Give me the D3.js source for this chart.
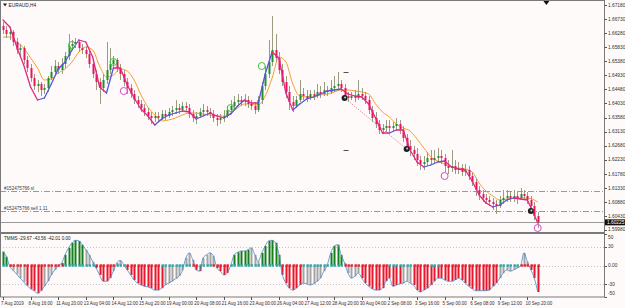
<!DOCTYPE html>
<html>
<head>
<meta charset="utf-8">
<script src="https://cdnjs.cloudflare.com/ajax/libs/d3/7.8.5/d3.min.js"></script>
<style>
body{margin:0;background:#fffafa;}
svg{display:block;font-family:'Liberation Sans',Arial,sans-serif;}
</style>
</head>
<body>
<svg></svg>
<script>
var w = 625, h = 308;

// EURAUD H4 candles, one value per bar (156 bars)
var opens = [1.66508,1.66380,1.66252,1.66316,1.65996,1.65740,1.65804,1.65420,1.65164,1.64844,
  1.64588,1.64652,1.64460,1.64524,1.64844,1.65036,1.65228,1.65100,1.65292,1.65548,
  1.65868,1.65932,1.65996,1.65804,1.65740,1.65612,1.65292,1.64972,1.64716,1.64524,
  1.64780,1.65100,1.65292,1.65420,1.65164,1.64972,1.64716,1.64524,1.64332,1.64140,
  1.64012,1.63884,1.63756,1.63628,1.63564,1.63628,1.63564,1.63692,1.63628,1.63756,
  1.63820,1.63884,1.63820,1.63948,1.63884,1.63692,1.63564,1.63628,1.63756,1.63820,
  1.63756,1.63692,1.63564,1.63500,1.63564,1.63628,1.63820,1.63948,1.64076,1.64140,
  1.64076,1.64140,1.64012,1.63948,1.63820,1.64140,1.64588,1.64972,1.65356,1.65740,
  1.65484,1.65100,1.64716,1.64396,1.64076,1.63948,1.64140,1.64332,1.64268,1.64204,
  1.64332,1.64268,1.64396,1.64332,1.64460,1.64396,1.64524,1.64588,1.64652,1.64524,
  1.64268,1.64204,1.64268,1.64204,1.64332,1.64268,1.64140,1.63820,1.63564,1.63372,
  1.63180,1.63244,1.63308,1.63244,1.63308,1.63372,1.63180,1.62924,1.62668,1.62540,
  1.62412,1.62220,1.62092,1.62156,1.62284,1.62220,1.62284,1.62348,1.62284,1.62028,
  1.61964,1.62028,1.61900,1.61964,1.61836,1.61900,1.61708,1.61516,1.61260,1.61132,
  1.61004,1.60940,1.60876,1.60812,1.60748,1.60940,1.61004,1.61068,1.61004,1.61068,
  1.61004,1.61132,1.61068,1.60940,1.60748,1.60428];
var highs = [1.66636,1.66508,1.66444,1.66380,1.66124,1.65932,1.65868,1.65548,1.65292,1.64972,
  1.64780,1.64716,1.64652,1.64908,1.65228,1.65420,1.65356,1.65484,1.65676,1.66252,
  1.66060,1.66124,1.66060,1.65932,1.65868,1.65740,1.65420,1.65100,1.64844,1.64972,
  1.65996,1.65804,1.65548,1.65484,1.65292,1.65100,1.64844,1.64652,1.64460,1.64268,
  1.64140,1.64012,1.63884,1.63756,1.63756,1.63756,1.63820,1.63820,1.63884,1.63948,
  1.64140,1.64012,1.64076,1.64076,1.64012,1.63820,1.63756,1.63884,1.64012,1.63948,
  1.63884,1.63820,1.63692,1.63692,1.63820,1.63948,1.64140,1.64268,1.64332,1.64268,
  1.64332,1.64268,1.64140,1.64076,1.64268,1.64716,1.65228,1.66060,1.66828,1.66252,
  1.65676,1.65292,1.64908,1.64588,1.64268,1.64268,1.64780,1.64524,1.64460,1.64460,
  1.64460,1.64652,1.64588,1.64716,1.64588,1.64780,1.64908,1.65036,1.64780,1.64652,
  1.64396,1.64396,1.64460,1.64780,1.64524,1.64396,1.64268,1.63948,1.63756,1.63500,
  1.63372,1.63500,1.63500,1.63436,1.63564,1.63500,1.63308,1.63052,1.62860,1.62668,
  1.62604,1.62348,1.62348,1.62476,1.62540,1.62540,1.62604,1.62540,1.62412,1.62220,
  1.62540,1.62220,1.62156,1.62092,1.62092,1.62028,1.61836,1.61644,1.61388,1.61260,
  1.61132,1.61068,1.61004,1.60940,1.61068,1.61260,1.61260,1.61196,1.61260,1.61196,
  1.61324,1.61260,1.61196,1.61068,1.60876,1.60556];
var lows = [1.66252,1.66124,1.66060,1.65868,1.65612,1.65548,1.65292,1.65036,1.64716,1.64460,
  1.64396,1.64268,1.64332,1.64396,1.64780,1.64908,1.64972,1.64972,1.65164,1.65420,
  1.65740,1.65804,1.65676,1.65612,1.65484,1.65164,1.64844,1.64460,1.64012,1.64396,
  1.64652,1.64972,1.65164,1.65036,1.64780,1.64588,1.64332,1.64204,1.64012,1.63884,
  1.63756,1.63628,1.63500,1.63372,1.63436,1.63436,1.63500,1.63500,1.63564,1.63628,
  1.63692,1.63692,1.63756,1.63756,1.63564,1.63436,1.63372,1.63564,1.63628,1.63628,
  1.63564,1.63436,1.63308,1.63372,1.63436,1.63564,1.63692,1.63820,1.63948,1.63948,
  1.63948,1.63884,1.63820,1.63692,1.63756,1.64012,1.64460,1.64844,1.65228,1.65356,
  1.64972,1.64588,1.64204,1.63820,1.63756,1.63884,1.64076,1.64140,1.64076,1.64140,
  1.64140,1.64204,1.64204,1.64268,1.64268,1.64332,1.64396,1.64460,1.64396,1.64140,
  1.64076,1.64140,1.64076,1.64140,1.64140,1.64012,1.63692,1.63436,1.63244,1.63052,
  1.63052,1.63116,1.63116,1.63116,1.63180,1.63052,1.62796,1.62540,1.62348,1.62220,
  1.62028,1.61900,1.61900,1.62028,1.62092,1.62092,1.62156,1.62092,1.61836,1.61772,
  1.61836,1.61772,1.61772,1.61708,1.61708,1.61580,1.61388,1.61068,1.60940,1.60876,
  1.60812,1.60748,1.60620,1.60492,1.60684,1.60812,1.60876,1.60876,1.60876,1.60812,
  1.60940,1.60940,1.60812,1.60620,1.60300,1.60044];
var closes = [1.66380,1.66252,1.66316,1.65996,1.65740,1.65804,1.65420,1.65164,1.64844,1.64588,
  1.64652,1.64460,1.64524,1.64844,1.65036,1.65228,1.65100,1.65292,1.65548,1.65868,
  1.65932,1.65996,1.65804,1.65740,1.65612,1.65292,1.64972,1.64716,1.64524,1.64780,
  1.65100,1.65292,1.65420,1.65164,1.64972,1.64716,1.64524,1.64332,1.64140,1.64012,
  1.63884,1.63756,1.63628,1.63564,1.63628,1.63564,1.63692,1.63628,1.63756,1.63820,
  1.63884,1.63820,1.63948,1.63884,1.63692,1.63564,1.63628,1.63756,1.63820,1.63756,
  1.63692,1.63564,1.63500,1.63564,1.63628,1.63820,1.63948,1.64076,1.64140,1.64076,
  1.64140,1.64012,1.63948,1.63820,1.64140,1.64588,1.64972,1.65356,1.65740,1.65484,
  1.65100,1.64716,1.64396,1.64076,1.63948,1.64140,1.64332,1.64268,1.64204,1.64332,
  1.64268,1.64396,1.64332,1.64460,1.64396,1.64524,1.64588,1.64652,1.64524,1.64268,
  1.64204,1.64268,1.64204,1.64332,1.64268,1.64140,1.63820,1.63564,1.63372,1.63180,
  1.63244,1.63308,1.63244,1.63308,1.63372,1.63180,1.62924,1.62668,1.62540,1.62412,
  1.62220,1.62092,1.62156,1.62284,1.62220,1.62284,1.62348,1.62284,1.62028,1.61964,
  1.62028,1.61900,1.61964,1.61836,1.61900,1.61708,1.61516,1.61260,1.61132,1.61004,
  1.60940,1.60876,1.60812,1.60748,1.60940,1.61004,1.61068,1.61004,1.61068,1.61004,
  1.61132,1.61068,1.60940,1.60748,1.60428,1.60225];

// moving averages read every 2nd bar, plus the last bar
var maBars = d3.range(0, 156, 2).concat([155]);
var fastMA = [1.66700,1.66476,1.65836,1.65260,1.64556,1.64140,1.64204,1.64652,1.65132,1.65356,
  1.65740,1.66060,1.65996,1.65516,1.64556,1.64364,1.65164,1.65164,1.64620,1.64204,
  1.63852,1.63628,1.63340,1.63532,1.63660,1.63724,1.63788,1.63756,1.63532,1.63628,
  1.63724,1.63628,1.63564,1.63692,1.63948,1.64140,1.64044,1.64044,1.64972,1.65676,
  1.65484,1.64364,1.63820,1.64012,1.64172,1.64236,1.64332,1.64428,1.64460,1.64492,
  1.64332,1.64268,1.64236,1.64012,1.63564,1.63084,1.63084,1.63180,1.63180,1.62540,
  1.62156,1.61996,1.62060,1.62156,1.62188,1.61996,1.61932,1.61900,1.61548,1.61100,
  1.60844,1.60716,1.60780,1.60940,1.61004,1.60972,1.60940,1.60460,1.60204];
var slowMA = [1.66156,1.66156,1.65996,1.65804,1.65484,1.65164,1.64780,1.64812,1.65004,1.65132,
  1.65356,1.65676,1.65836,1.65740,1.65228,1.64876,1.64940,1.65132,1.65068,1.64780,
  1.64300,1.63916,1.63660,1.63468,1.63500,1.63564,1.63660,1.63724,1.63724,1.63692,
  1.63660,1.63628,1.63628,1.63724,1.63884,1.64012,1.64012,1.63980,1.64268,1.64844,
  1.65516,1.65356,1.64652,1.64268,1.64236,1.64236,1.64300,1.64332,1.64396,1.64460,
  1.64460,1.64428,1.64396,1.64332,1.64012,1.63756,1.63596,1.63372,1.63244,1.63148,
  1.62892,1.62604,1.62316,1.62188,1.62092,1.61996,1.61964,1.61932,1.61836,1.61484,
  1.61228,1.61068,1.60940,1.60972,1.61004,1.61004,1.61004,1.60940,1.60876];

// TMMS histogram, per bar, and its colour state (g green, r red, n grey)
var tmms = [22,14,-2,-8,-14,-20,-26,-32,-37,-40,
  -44,-40,-33,-25,-15,-7,-1,4,17,28,
  36,40,39,33,25,17,6,-4,-15,-25,
  -25,-20,-9,4,8,1,-7,-15,-23,-28,
  -31,-33,-34,-36,-39,-39,-36,-31,-28,-25,
  -21,-17,-8,12,20,9,-7,-9,12,17,
  20,15,-4,-9,-15,-12,0,17,21,23,
  23,25,28,17,7,20,31,39,40,36,
  17,-15,-28,-36,-39,-36,-31,-28,-29,-31,
  -29,-25,-20,-9,1,20,31,33,17,4,
  -12,-20,-17,-12,-20,-28,-33,-37,-39,-39,
  -36,-25,-20,-33,-31,-29,-28,-25,-28,-31,
  -39,-42,-39,-36,-31,-25,-20,-20,-23,-25,
  -25,-23,-20,-23,-28,-33,-37,-40,-40,-40,
  -40,-39,-33,-28,-20,-12,-7,-9,-7,-4,
  -1,20,6,-7,-20,-42];
var tmmsState = ('ggnnnnnrrr' + 'rrnnnnnggg' + 'ggggnnnrrr' + 'rrnnnnrrrr' + 'rrrrrrrnnn' +
  'nnnnnnrrnn' + 'nnrrrrnggg' + 'ggnnnggggg' + 'grrrrrrnnn' + 'nnnnnggggn' +
  'nnnnrrrrrr' + 'rrrrrrnnnr' + 'rrrrrrrrrr' + 'rrrrrrrrrr' + 'rrrrnnnnnn' + 'nnnrrr').split('');
// zero line trend dots (t teal, r red)
var trendState = ('ttrrrrrrrr' + 'rrrrrrrrtt' + 'tttttttrrr' + 'rrrtttrrrr' + 'rrrrrrtttt' +
  'tttttrrttt' + 'trrrrrtttt' + 'tttttttttt' + 'trrrrrrttt' + 'tttttttttr' +
  'rrrrrrrrrr' + 'rrtttttttr' + 'rrrrtttrrr' + 'rrrrrrrrrr' + 'rrrrtttttt' + 'rrrrrr').split('');

var timeLabels = ['7 Aug 2019','8 Aug 16:00','11 Aug 20:00','13 Aug 04:00','14 Aug 12:00',
  '15 Aug 20:00','19 Aug 00:00','20 Aug 08:00','21 Aug 16:00','23 Aug 00:00','26 Aug 04:00',
  '27 Aug 12:00','28 Aug 20:00','30 Aug 04:00','2 Sep 08:00','3 Sep 16:00','5 Sep 00:00',
  '6 Sep 08:00','9 Sep 12:00','10 Sep 20:00'];
var priceTicks = [1.67180,1.66730,1.66280,1.65830,1.65380,1.64930,1.64480,1.64030,1.63580,
  1.63130,1.62680,1.62230,1.61780,1.61330,1.60880,1.60430,1.59980];
var tmmsTicks = [50,30,0,-30,-50];
var tmmsLevels = [30,0,-30];

// signal arrows and trades
var upSigBars = [20,32,66,75];
var upSigPrices = [1.65900,1.65356,1.63884,1.65228];
var dnSigBars = [35,128,155];
var dnSigPrices = [1.64428,1.61708,1.60044];
var tradeBars = [99,117,153];
var tradePrices = [1.64204,1.62572,1.60588];
var stopBars = [99,99];
var stopPrices = [1.65036,1.62540];
var orderLevels = [1.61228,1.60588];
var orderNames = ['#152475766 sl','#152475766 sell 1.11'];
var lastPrice = 1.60225;

var plotR = 604;
var x = d3.scaleLinear().domain([0, 155]).range([3, 537.75]);
var y = d3.scaleLinear().domain([1.6734, 1.5998]).range([0, 230]);
var yi = d3.scaleLinear().domain([50, -50]).range([234, 297]);

var svg = d3.select('svg').attr('width', w).attr('height', h);
svg.append('rect').attr('width', w).attr('height', h).attr('fill', '#fffafa');

var defs = svg.append('defs');
defs.append('clipPath').attr('id', 'clipMain')
  .append('rect').attr('x', 0).attr('y', 1).attr('width', plotR).attr('height', 231);
defs.append('clipPath').attr('id', 'clipInd')
  .append('rect').attr('x', 0).attr('y', 234).attr('width', plotR).attr('height', 63);

var main = svg.append('g').attr('clip-path', 'url(#clipMain)');
var bars = d3.range(closes.length);
var cx = function(i){ return Math.round(x(i)); };

// order level lines
main.selectAll('line.order').data(orderLevels).enter().append('line')
  .attr('x1', 0).attr('x2', plotR)
  .attr('y1', function(d){ return Math.round(y(d)) + 0.5; })
  .attr('y2', function(d){ return Math.round(y(d)) + 0.5; })
  .attr('stroke', '#808080').attr('stroke-width', 0.8)
  .attr('stroke-dasharray', '6,2,1,2');
main.selectAll('text.order').data(orderLevels).enter().append('text')
  .attr('x', 4).attr('y', function(d){ return Math.round(y(d)) - 1; })
  .attr('font-size', 4.6).attr('fill', '#404040')
  .text(function(d, i){ return orderNames[i]; });

// bid line
main.append('line').attr('x1', 0).attr('x2', plotR)
  .attr('y1', Math.round(y(lastPrice)) + 0.5).attr('y2', Math.round(y(lastPrice)) + 0.5)
  .attr('stroke', '#9a9a9a').attr('stroke-width', 1);

// slow MA
var maLine = d3.line()
  .x(function(d, k){ return x(maBars[k]); })
  .y(function(d){ return y(d); })
  .curve(d3.curveMonotoneX);
main.append('path').attr('d', maLine(slowMA))
  .attr('fill', 'none').attr('stroke', '#f0a030').attr('stroke-width', 1);

// trade line
main.append('line')
  .attr('x1', x(tradeBars[0])).attr('y1', y(tradePrices[0]))
  .attr('x2', x(tradeBars[1])).attr('y2', y(tradePrices[1]))
  .attr('stroke', '#d04070').attr('stroke-width', 0.8).attr('stroke-dasharray', '1,1.5');

// candles
main.selectAll('line.wick').data(bars).enter().append('line')
  .attr('x1', function(i){ return cx(i) + 0.5; })
  .attr('x2', function(i){ return cx(i) + 0.5; })
  .attr('y1', function(i){ return y(highs[i]); })
  .attr('y2', function(i){ return y(lows[i]); })
  .attr('stroke', '#9a9c80').attr('stroke-width', 1);
main.selectAll('rect.body').data(bars).enter().append('rect')
  .attr('x', function(i){ return cx(i) - 0.5; })
  .attr('width', 2)
  .attr('y', function(i){ return y(Math.max(opens[i], closes[i])); })
  .attr('height', function(i){ return Math.max(1, Math.abs(y(opens[i]) - y(closes[i]))); })
  .attr('fill', function(i){ return closes[i] >= opens[i] ? '#1f8f2a' : '#e8145e'; });

// fast MA, blue when rising, magenta when falling
var segs = d3.range(1, fastMA.length);
main.selectAll('line.fast').data(segs).enter().append('line')
  .attr('x1', function(k){ return x(maBars[k - 1]); })
  .attr('y1', function(k){ return y(fastMA[k - 1]); })
  .attr('x2', function(k){ return x(maBars[k]); })
  .attr('y2', function(k){ return y(fastMA[k]); })
  .attr('stroke', function(k){ return fastMA[k] > fastMA[k - 1] ? '#5a55d8' : '#e0287e'; })
  .attr('stroke-width', 1.3).attr('stroke-linecap', 'round');

// signal circles
main.selectAll('circle.up').data(upSigBars).enter().append('circle')
  .attr('cx', function(d){ return x(d); })
  .attr('cy', function(d, i){ return y(upSigPrices[i]); })
  .attr('r', 3.5).attr('fill', 'none').attr('stroke', '#3cc040').attr('stroke-width', 1);
main.selectAll('circle.dn').data(dnSigBars).enter().append('circle')
  .attr('cx', function(d){ return x(d); })
  .attr('cy', function(d, i){ return y(dnSigPrices[i]); })
  .attr('r', 3.5).attr('fill', 'none').attr('stroke', '#d050c8').attr('stroke-width', 1);

// trade markers
main.selectAll('circle.trade').data(tradeBars).enter().append('circle')
  .attr('cx', function(d){ return x(d); })
  .attr('cy', function(d, i){ return y(tradePrices[i]); })
  .attr('r', 3).attr('fill', '#202020');
main.selectAll('circle.tradein').data(tradeBars).enter().append('circle')
  .attr('cx', function(d){ return x(d) + 0.5; })
  .attr('cy', function(d, i){ return y(tradePrices[i]) - 0.5; })
  .attr('r', 1).attr('fill', '#d0d0d0');
main.selectAll('line.stop').data(stopBars).enter().append('line')
  .attr('x1', function(d){ return x(d) - 1; })
  .attr('x2', function(d){ return x(d) + 4; })
  .attr('y1', function(d, i){ return Math.round(y(stopPrices[i])) + 0.5; })
  .attr('y2', function(d, i){ return Math.round(y(stopPrices[i])) + 0.5; })
  .attr('stroke', '#505050').attr('stroke-width', 1);

// indicator window
var ind = svg.append('g').attr('clip-path', 'url(#clipInd)');
ind.selectAll('line.level').data(tmmsLevels).enter().append('line')
  .attr('x1', 0).attr('x2', plotR)
  .attr('y1', function(d){ return Math.round(yi(d)) + 0.5; })
  .attr('y2', function(d){ return Math.round(yi(d)) + 0.5; })
  .attr('stroke', '#b8b8b8').attr('stroke-width', 0.8).attr('stroke-dasharray', '1,2');
var histColor = {g: '#14801c', r: '#e8162c', n: '#a4a4a4'};
ind.selectAll('rect.hist').data(bars).enter().append('rect')
  .attr('x', function(i){ return cx(i) - 0.5; })
  .attr('width', 2)
  .attr('y', function(i){ return Math.min(yi(0), yi(tmms[i])); })
  .attr('height', function(i){ return Math.abs(yi(tmms[i]) - yi(0)); })
  .attr('fill', function(i){ return histColor[tmmsState[i]]; });
ind.append('path')
  .attr('d', d3.line().x(function(d, i){ return x(i); }).y(function(d){ return yi(d); })
    .curve(d3.curveMonotoneX)(tmms))
  .attr('fill', 'none').attr('stroke', '#4a86c8').attr('stroke-width', 0.8);
ind.selectAll('rect.trend').data(bars).enter().append('rect')
  .attr('x', function(i){ return cx(i) - 0.5; })
  .attr('width', 2.4)
  .attr('y', yi(0) - 1.2).attr('height', 2.4)
  .attr('fill', function(i){ return trendState[i] === 't' ? '#2aa6a6' : '#e22030'; });

// frames
svg.append('rect').attr('x', 0.5).attr('y', 0.5).attr('width', plotR).attr('height', 232)
  .attr('fill', 'none').attr('stroke', '#7a7a7a').attr('stroke-width', 1);
svg.append('rect').attr('x', 0.5).attr('y', 233.5).attr('width', plotR).attr('height', 63.5)
  .attr('fill', 'none').attr('stroke', '#7a7a7a').attr('stroke-width', 1);

// price axis
var axR = svg.append('g');
axR.selectAll('line').data(priceTicks).enter().append('line')
  .attr('x1', plotR + 0.5).attr('x2', plotR + 3)
  .attr('y1', function(d){ return Math.round(y(d)) + 0.5; })
  .attr('y2', function(d){ return Math.round(y(d)) + 0.5; })
  .attr('stroke', '#555');
axR.selectAll('text').data(priceTicks).enter().append('text')
  .attr('x', plotR + 4).attr('y', function(d){ return Math.min(y(d) + 1.8, 230.6); })
  .attr('font-size', 4.8).attr('fill', '#303030')
  .text(function(d){ return d.toFixed(5); });
axR.append('rect').attr('x', plotR + 1).attr('y', y(lastPrice) - 3).attr('width', 20).attr('height', 6)
  .attr('fill', '#101010');
axR.append('text').attr('x', plotR + 3).attr('y', y(lastPrice) + 1.8)
  .attr('font-size', 4.8).attr('fill', '#ffffff').text(lastPrice.toFixed(5));

var axI = svg.append('g');
axI.selectAll('text').data(tmmsTicks).enter().append('text')
  .attr('x', plotR + 4)
  .attr('y', function(d){ return Math.max(Math.min(yi(d) + 1.8, 295), 238.5); })
  .attr('font-size', 4.8).attr('fill', '#303030')
  .text(function(d){ return d === 0 ? '0.00' : d; });
axI.selectAll('line').data(tmmsTicks).enter().append('line')
  .attr('x1', plotR + 0.5).attr('x2', plotR + 3)
  .attr('y1', function(d){ return Math.round(yi(d)) + 0.5; })
  .attr('y2', function(d){ return Math.round(yi(d)) + 0.5; })
  .attr('stroke', '#555');

// time axis
var axB = svg.append('g');
axB.selectAll('line').data(timeLabels).enter().append('line')
  .attr('x1', function(d, i){ return cx(i * 8) + 0.5; })
  .attr('x2', function(d, i){ return cx(i * 8) + 0.5; })
  .attr('y1', 297).attr('y2', 300).attr('stroke', '#555');
axB.selectAll('text').data(timeLabels).enter().append('text')
  .attr('x', function(d, i){ return x(i * 8) - 2; })
  .attr('y', 305)
  .attr('font-size', 4.5).attr('fill', '#303030')
  .text(function(d){ return d; });

// titles
svg.append('path').attr('d', 'M3,3.5 L7,3.5 L5,6.5 Z').attr('fill', '#202020');
svg.append('text').attr('x', 8.5).attr('y', 7).attr('font-size', 4.8).attr('fill', '#202020')
  .text('EURAUD,H4');
svg.append('text').attr('x', 4).attr('y', 239.5).attr('font-size', 4.6).attr('fill', '#202020')
  .text('TMMS -29.67 -43.56 -42.01 0.00');
svg.append('path').attr('d', 'M' + (x(157.5) - 3) + ',1 L' + (x(157.5) + 3) + ',1 L' + x(157.5) + ',5 Z')
  .attr('fill', '#101010');
</script>
</body>
</html>
